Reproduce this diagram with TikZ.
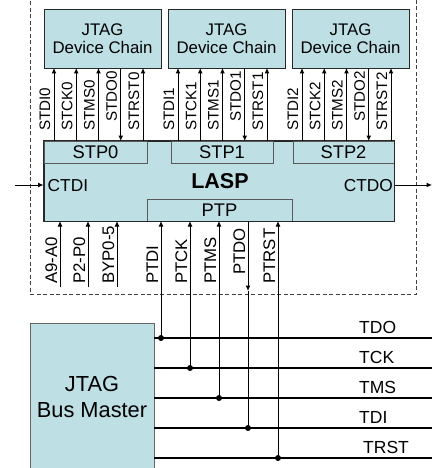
\documentclass[tikz,border=0pt]{standalone}
\usepackage{fontspec}
\setmainfont{Liberation Sans}
\usetikzlibrary{arrows.meta}
\definecolor{boxfill}{RGB}{190,224,228}
\definecolor{edge}{RGB}{40,40,40}
\begin{document}
\begin{tikzpicture}[x=1pt,y=-1pt,
  box/.style={draw=edge,fill=boxfill,line width=1pt,inner sep=0pt,align=center},
  subbox/.style={draw=black!65,fill=boxfill,line width=0.9pt,inner sep=0pt},
  sig/.style={line width=1pt,-{Latex[length=5.5pt,width=5pt]}},
  wire/.style={line width=1pt},
  bus/.style={line width=2.2pt},
  toplab/.style={rotate=90,anchor=base west,inner sep=0pt,font=\fontsize{15.2}{15.2}\selectfont},
  botlab/.style={rotate=90,anchor=base west,inner sep=0pt,font=\fontsize{16.8}{16.8}\selectfont},
  buslab/.style={anchor=base west,inner sep=0pt,font=\fontsize{17.5}{17.5}\selectfont},
  stplab/.style={anchor=base,inner sep=0pt,font=\fontsize{18.3}{18.3}\selectfont},
  dot/.style={circle,fill=black,inner sep=0pt,minimum size=6pt}
]
\useasboundingbox (0,0) rectangle (432,468);
\fill[white] (0,0) rectangle (432,468);

% dashed enclosure
\draw[black!75,line width=1pt,dash pattern=on 4pt off 2.5pt] (30,-5) -- (30,294) -- (416,294) -- (416,-5);

% device chains
\foreach \g in {0,1,2}{
  \pgfmathsetmacro\cx{102.5+124*\g}
  \node[box,minimum width=117pt,minimum height=59pt,font=\fontsize{16.8}{18.5}\selectfont]
    (dc\g) at (\cx,39) {JTAG\\[-0.5pt]Device Chain};
}

% LASP
\node[box,minimum width=350pt,minimum height=80pt] (lasp) at (219,181) {};
\node[subbox,minimum width=103pt,minimum height=22pt] (stp0) at (95.5,152) {};
\node[subbox,minimum width=102pt,minimum height=22pt] (stp1) at (222,152) {};
\node[subbox,minimum width=101pt,minimum height=22pt] (stp2) at (343.5,152) {};
\node[subbox,minimum width=145pt,minimum height=22pt] (ptp) at (219.5,210) {};
\draw[edge,line width=1pt] (lasp.north west) rectangle (lasp.south east);
\node[stplab] (stp0t) at (95.5,158.5) {STP0};
\node[stplab] (stp1t) at (222,158.5) {STP1};
\node[stplab] (stp2t) at (343.5,158.5) {STP2};
\node[stplab] (ptpt) at (219.5,216.5) {PTP};
\node[anchor=base,inner sep=0pt,font=\bfseries\fontsize{21.5}{21.5}\selectfont] (laspt) at (220,188.5) {LASP};
\node[anchor=base west,inner sep=0pt,font=\fontsize{17.3}{17.3}\selectfont] (ctdi) at (47.5,191.5) {CTDI};
\node[anchor=base east,inner sep=0pt,font=\fontsize{17.3}{17.3}\selectfont] (ctdo) at (393,191.5) {CTDO};

\coordinate (inL) at (15,185);
\coordinate (outR) at (432,185);
\draw[sig] (inL) -- (lasp.west |- inL);
\draw[sig] (lasp.east |- outR) -- (outR);

% top signals
\foreach \g in {0,1,2}{
  \foreach \s [count=\k from 0] in {STDI,STCK,STMS,STDO,STRST}{
    \pgfmathsetmacro\xx{54+124*\g+22.25*\k}
    \ifnum\k=3
      \draw[sig] (\xx,68) -- (\xx,141);
      \node[toplab] at (\xx-4,122) {\s\g};
    \else
      \draw[sig] (\xx,141) -- (\xx,68);
      \node[toplab] at (\xx-4,131) {\s\g};
    \fi
  }
}

% bottom control inputs
\foreach \xx/\t in {60/A9-A0,88/P2-P0,117/BYP0-5}{
  \draw[sig] (\xx,287) -- (\xx,221);
  \node[botlab] at (\xx-3,284) {\t};
}

% bus master
\node[draw=black!60,fill=boxfill,line width=0.9pt,minimum width=124pt,minimum height=150pt,inner sep=0pt]
  (bm) at (92,398) {};
\node[align=center,inner sep=0pt,font=\fontsize{21.8}{26}\selectfont] (bmt) at (92,397) {JTAG\\Bus Master};

% bus lines
\foreach \yy/\t/\lx in {338/TDO/359,368/TCK/359,398/TMS/359,428/TDI/359,458/TRST/363}{
  \coordinate (b\t) at (432,\yy);
  \draw[bus] (bm.east |- b\t) -- (b\t);
  \node[buslab] at (\lx,\yy-4.5) {\t};
}

% PTP connections
\node[dot] (d1) at (161,338) {};
\node[dot] (d2) at (190,368) {};
\node[dot] (d3) at (219,398) {};
\node[dot] (d4) at (248,428) {};
\node[dot] (d5) at (278,458) {};
\draw[sig] (d1.center) -- (161,221);
\draw[sig] (d2.center) -- (190,221);
\draw[sig] (d3.center) -- (219,221);
\coordinate (pdo) at (248,291);
\draw[sig] (248,221) -- (pdo);
\draw[wire] (pdo) -- (d4.center);
\draw[sig] (d5.center) -- (278,221);
\node[botlab] at (158,284) {PTDI};
\node[botlab] at (187,284) {PTCK};
\node[botlab] at (216,284) {PTMS};
\node[botlab] at (245,275) {PTDO};
\node[botlab] at (275,284) {PTRST};
\end{tikzpicture}
\end{document}
